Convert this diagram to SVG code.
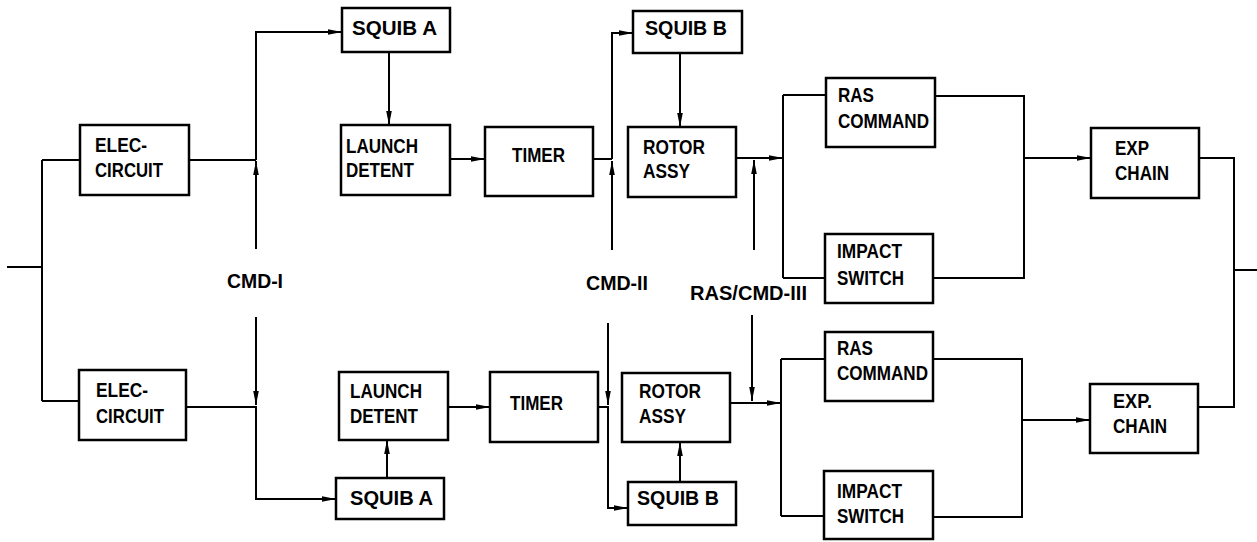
<svg xmlns="http://www.w3.org/2000/svg" width="1257" height="542" viewBox="0 0 1257 542">
<style>
.box{fill:#fff;stroke:#000;stroke-width:2.5}
.t{font-family:"Liberation Sans",Arial,sans-serif;font-weight:bold;font-size:20px;fill:#000}
.c{fill:none;stroke:#000;stroke-width:2}
.a{fill:none;stroke:#000;stroke-width:2;marker-end:url(#ah)}
</style>
<defs>
<marker id="ah" markerUnits="userSpaceOnUse" markerWidth="15" markerHeight="8" refX="14" refY="4" orient="auto">
<path d="M0,1.2 L14,4 L0,6.8 Z" fill="#000"/>
</marker>
</defs>
<rect width="1257" height="542" fill="#fff"/>
<g id="connectors">
<path class="c" d="M7,267 H42 M42,160 V401 M42,160 H80 M42,401 H79"/>
<path class="c" d="M189,160 H256"/>
<path class="a" d="M256,249 V161"/>
<path class="a" d="M256,160 V32 H342"/>
<path class="a" d="M389,52 V125"/>
<path class="a" d="M450,159 H485"/>
<path class="c" d="M593,159 H612"/>
<path class="a" d="M612,250 V161"/>
<path class="a" d="M612,159 V33 H633"/>
<path class="a" d="M680,53 V127"/>
<path class="a" d="M736,158 H783"/>
<path class="a" d="M754,250 V160"/>
<path class="c" d="M783,95 V278 M783,95 H826 M783,278 H825"/>
<path class="c" d="M935,96 H1024 V278 H933"/>
<path class="a" d="M1024,158 H1091"/>
<path class="c" d="M1199,158 H1234 V407 H1198 M1234,270 H1257"/>
<path class="a" d="M186,407 H256 V499 H336"/>
<path class="a" d="M256,317 V405"/>
<path class="a" d="M387,478 V440"/>
<path class="a" d="M448,407 H490"/>
<path class="a" d="M598,407 H608 V508 H628"/>
<path class="a" d="M608,323 V405"/>
<path class="a" d="M680,482 V442"/>
<path class="a" d="M730,403 H781"/>
<path class="a" d="M752,315 V401"/>
<path class="c" d="M781,359 V516 M781,359 H825 M781,516 H824"/>
<path class="c" d="M933,359 H1022 V517 H933"/>
<path class="a" d="M1022,420 H1090"/>
</g>
<g id="elec1"><rect class="box" x="80" y="125" width="109" height="70"/><text class="t" x="95" y="152" textLength="52" lengthAdjust="spacingAndGlyphs">ELEC-</text><text class="t" x="95" y="177" textLength="68" lengthAdjust="spacingAndGlyphs">CIRCUIT</text></g>
<g id="elec2"><rect class="box" x="79" y="370" width="107" height="70"/><text class="t" x="96" y="397" textLength="52" lengthAdjust="spacingAndGlyphs">ELEC-</text><text class="t" x="96" y="423" textLength="68" lengthAdjust="spacingAndGlyphs">CIRCUIT</text></g>
<g id="squibA1"><rect class="box" x="342" y="8" width="108" height="44"/><text class="t" x="352" y="35" textLength="85" lengthAdjust="spacingAndGlyphs">SQUIB A</text></g>
<g id="launch1"><rect class="box" x="341" y="125" width="109" height="70"/><text class="t" x="346" y="153" textLength="72" lengthAdjust="spacingAndGlyphs">LAUNCH</text><text class="t" x="346" y="177" textLength="68" lengthAdjust="spacingAndGlyphs">DETENT</text></g>
<g id="timer1"><rect class="box" x="485" y="127" width="108" height="69"/><text class="t" x="512" y="162" textLength="53" lengthAdjust="spacingAndGlyphs">TIMER</text></g>
<g id="squibB1"><rect class="box" x="633" y="11" width="109" height="42"/><text class="t" x="645" y="35" textLength="82" lengthAdjust="spacingAndGlyphs">SQUIB B</text></g>
<g id="rotor1"><rect class="box" x="628" y="127" width="108" height="70"/><text class="t" x="643" y="154" textLength="62" lengthAdjust="spacingAndGlyphs">ROTOR</text><text class="t" x="643" y="178" textLength="47" lengthAdjust="spacingAndGlyphs">ASSY</text></g>
<g id="ras1"><rect class="box" x="826" y="78" width="109" height="69"/><text class="t" x="838" y="102" textLength="36" lengthAdjust="spacingAndGlyphs">RAS</text><text class="t" x="838" y="128" textLength="91" lengthAdjust="spacingAndGlyphs">COMMAND</text></g>
<g id="impact1"><rect class="box" x="825" y="234" width="108" height="69"/><text class="t" x="837" y="258" textLength="65" lengthAdjust="spacingAndGlyphs">IMPACT</text><text class="t" x="837" y="285" textLength="67" lengthAdjust="spacingAndGlyphs">SWITCH</text></g>
<g id="exp1"><rect class="box" x="1091" y="128" width="108" height="70"/><text class="t" x="1115" y="155" textLength="34" lengthAdjust="spacingAndGlyphs">EXP</text><text class="t" x="1115" y="180" textLength="54" lengthAdjust="spacingAndGlyphs">CHAIN</text></g>
<g id="squibA2"><rect class="box" x="336" y="478" width="108" height="41"/><text class="t" x="350" y="505" textLength="83" lengthAdjust="spacingAndGlyphs">SQUIB A</text></g>
<g id="launch2"><rect class="box" x="339" y="372" width="109" height="68"/><text class="t" x="350" y="398" textLength="72" lengthAdjust="spacingAndGlyphs">LAUNCH</text><text class="t" x="350" y="423" textLength="68" lengthAdjust="spacingAndGlyphs">DETENT</text></g>
<g id="timer2"><rect class="box" x="490" y="372" width="108" height="70"/><text class="t" x="510" y="410" textLength="53" lengthAdjust="spacingAndGlyphs">TIMER</text></g>
<g id="rotor2"><rect class="box" x="622" y="373" width="108" height="69"/><text class="t" x="639" y="398" textLength="62" lengthAdjust="spacingAndGlyphs">ROTOR</text><text class="t" x="639" y="423" textLength="47" lengthAdjust="spacingAndGlyphs">ASSY</text></g>
<g id="squibB2"><rect class="box" x="628" y="482" width="108" height="43"/><text class="t" x="637" y="505" textLength="82" lengthAdjust="spacingAndGlyphs">SQUIB B</text></g>
<g id="ras2"><rect class="box" x="825" y="332" width="108" height="69"/><text class="t" x="837" y="355" textLength="36" lengthAdjust="spacingAndGlyphs">RAS</text><text class="t" x="837" y="380" textLength="91" lengthAdjust="spacingAndGlyphs">COMMAND</text></g>
<g id="impact2"><rect class="box" x="824" y="471" width="109" height="68"/><text class="t" x="837" y="498" textLength="65" lengthAdjust="spacingAndGlyphs">IMPACT</text><text class="t" x="837" y="523" textLength="67" lengthAdjust="spacingAndGlyphs">SWITCH</text></g>
<g id="exp2"><rect class="box" x="1090" y="384" width="108" height="69"/><text class="t" x="1113" y="408" textLength="39" lengthAdjust="spacingAndGlyphs">EXP.</text><text class="t" x="1113" y="433" textLength="54" lengthAdjust="spacingAndGlyphs">CHAIN</text></g>
<g id="labels">
<text class="t" x="227" y="288" textLength="56" lengthAdjust="spacingAndGlyphs">CMD-I</text>
<text class="t" x="586" y="290" textLength="62" lengthAdjust="spacingAndGlyphs">CMD-II</text>
<text class="t" x="690" y="300" textLength="117" lengthAdjust="spacingAndGlyphs">RAS/CMD-III</text>
</g>
</svg>
